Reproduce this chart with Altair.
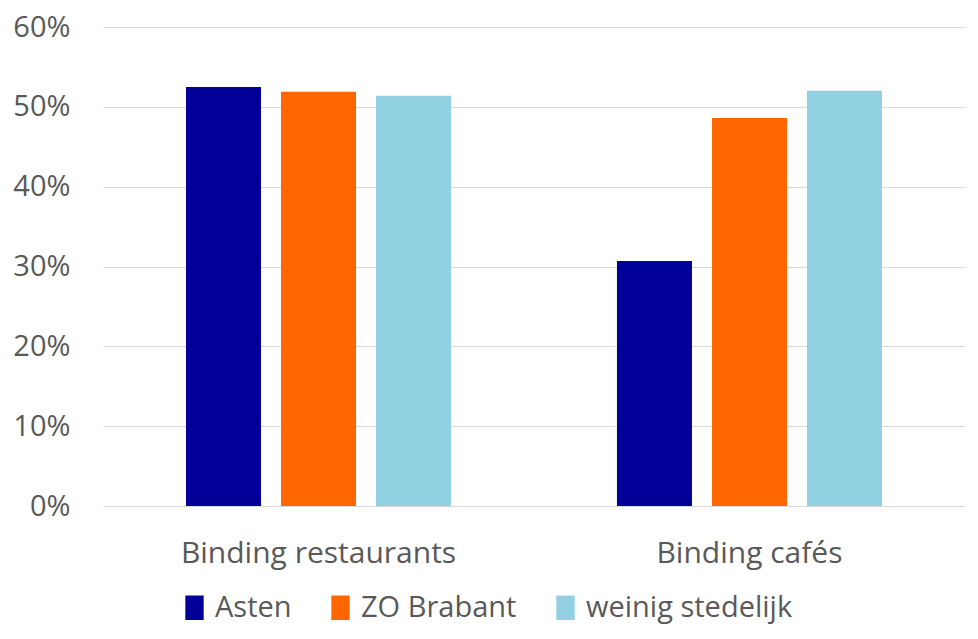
import altair as alt
import pandas as pd

categories = ["Binding restaurants", "Binding cafés"]
series = ["Asten", "ZO Brabant", "weinig stedelijk"]
asten = [0.525, 0.307]
zo_brabant = [0.519, 0.486]
weinig = [0.514, 0.520]
colors = ["#000099", "#FF6600", "#92D1E1"]

rows = []
for i, c in enumerate(categories):
    rows.append({"cat": c, "serie": series[0], "val": asten[i]})
    rows.append({"cat": c, "serie": series[1], "val": zo_brabant[i]})
    rows.append({"cat": c, "serie": series[2], "val": weinig[i]})
df = pd.DataFrame(rows)

FONT = "Open Sans"
GRAY = "#595959"

chart = alt.Chart(df).mark_bar().encode(
    x=alt.X("cat:N", sort=categories, title=None,
            scale=alt.Scale(paddingInner=0.385, paddingOuter=0.1926),
            axis=alt.Axis(labelAngle=0, labelFontSize=30, labelColor=GRAY, labelFont=FONT,
                          labelPadding=32, ticks=False, domain=False, labelLimit=0)),
    xOffset=alt.XOffset("serie:N", sort=series, scale=alt.Scale(paddingInner=0.2105, paddingOuter=0)),
    y=alt.Y("val:Q", title=None,
            scale=alt.Scale(domain=[0, 0.6]),
            axis=alt.Axis(values=[0, 0.1, 0.2, 0.3, 0.4, 0.5, 0.6], format=".0%",
                          labelFontSize=29, labelColor=GRAY, labelFont=FONT,
                          labelPadding=33, ticks=False, domain=False,
                          gridColor="#D9D9D9", gridWidth=1)),
    color=alt.Color("serie:N", sort=series,
                    scale=alt.Scale(domain=series, range=colors),
                    legend=alt.Legend(title=None, orient="none", direction="horizontal",
                                      legendX=77, legendY=566,
                                      symbolType="M-0.75,-1H0.75V1H-0.75Z", symbolSize=600,
                                      symbolOpacity=1, symbolStrokeWidth=0,
                                      labelFontSize=29, labelColor=GRAY, labelFont=FONT,
                                      labelLimit=0, columnPadding=34, labelOffset=6)),
).properties(
    width=862, height=479,
    padding={"left": 103, "top": 27, "right": 13, "bottom": 133},
    autosize=alt.AutoSizeParams(type="none"),
).configure_view(stroke=None)

chart.save("out.html", embed_options={"renderer": "svg", "actions": False})
